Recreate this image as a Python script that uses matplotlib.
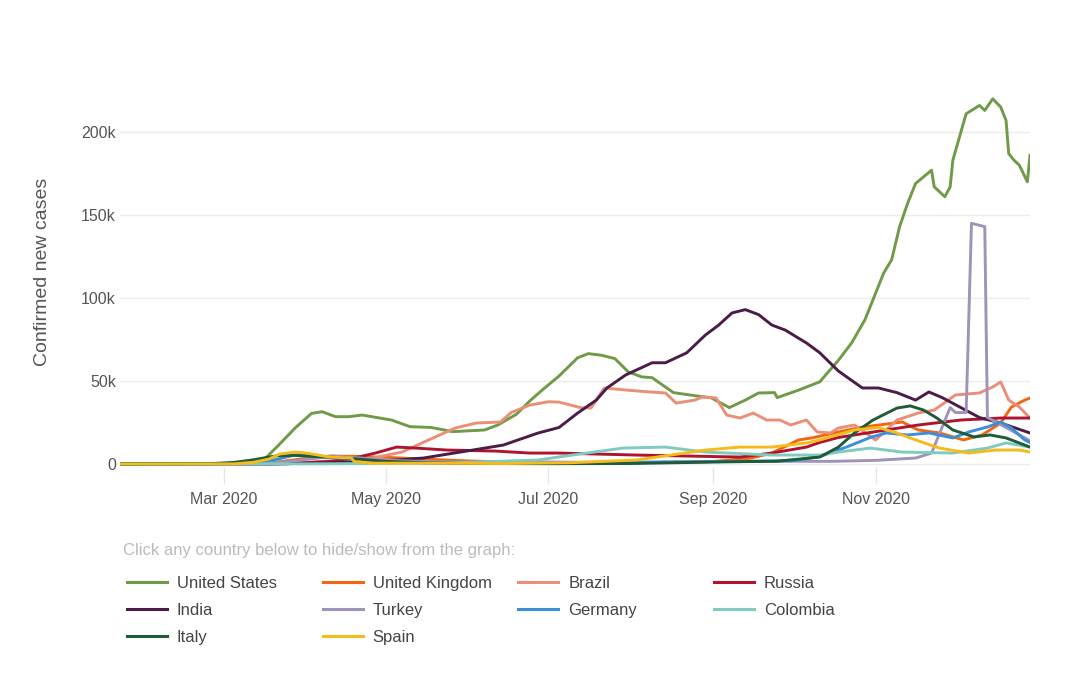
import matplotlib
matplotlib.use("Agg")
import matplotlib.pyplot as plt
import matplotlib.dates as mdates
from matplotlib.lines import Line2D
import pandas as pd

plt.rcParams["font.family"] = ["Liberation Sans", "DejaVu Sans"]

# daily confirmed new cases, in thousands
us_dates = ["2020-01-22", "2020-03-01", "2020-03-12", "2020-03-17", "2020-03-22", "2020-03-28",
            "2020-04-03", "2020-04-07", "2020-04-12", "2020-04-17", "2020-04-22", "2020-05-03",
            "2020-05-10", "2020-05-18", "2020-05-26", "2020-06-07", "2020-06-12", "2020-06-19",
            "2020-06-24", "2020-06-29", "2020-07-05", "2020-07-12", "2020-07-16", "2020-07-21",
            "2020-07-26", "2020-07-31", "2020-08-05", "2020-08-09", "2020-08-17", "2020-08-28",
            "2020-08-31", "2020-09-07", "2020-09-13", "2020-09-18", "2020-09-24", "2020-09-25",
            "2020-10-03", "2020-10-11", "2020-10-18", "2020-10-23", "2020-10-28", "2020-11-01",
            "2020-11-04", "2020-11-07", "2020-11-10", "2020-11-13", "2020-11-16", "2020-11-22",
            "2020-11-23", "2020-11-27", "2020-11-29", "2020-11-30", "2020-12-05", "2020-12-10",
            "2020-12-12", "2020-12-15", "2020-12-18", "2020-12-20", "2020-12-21", "2020-12-23",
            "2020-12-25", "2020-12-28", "2020-12-29"]
us_vals = [0, 0.1, 0.8, 4, 12, 22,
           30.5, 31.5, 28.5, 28.5, 29.5, 26.5,
           22.5, 22, 19.5, 20.5, 23.5, 30,
           38, 45, 53, 64, 66.5, 65.5,
           63.5, 55.5, 52.5, 52, 43, 40.5,
           40, 34, 38.5, 42.8, 43, 40,
           44.5, 49.5, 62.5, 73, 87, 103,
           115, 123, 143, 157, 169, 177,
           167, 161, 167, 183, 211, 216,
           213, 220, 215, 207, 187, 183,
           180, 170, 186]

uk_dates = ["2020-01-22", "2020-03-10", "2020-03-20", "2020-03-30", "2020-04-10", "2020-04-20",
            "2020-05-01", "2020-05-15", "2020-06-01", "2020-06-20", "2020-07-15", "2020-08-15",
            "2020-09-01", "2020-09-15", "2020-09-23", "2020-10-03", "2020-10-08", "2020-10-18",
            "2020-10-26", "2020-11-11", "2020-11-17", "2020-11-25", "2020-12-04", "2020-12-11",
            "2020-12-18", "2020-12-22", "2020-12-27", "2020-12-29"]
uk_vals = [0, 0.1, 1, 3, 4.8, 4.6,
           4, 3, 1.8, 1.1, 0.6, 1,
           1.5, 3.5, 6.6, 14.5, 15.7, 19.3,
           22, 25.3, 20.5, 18.7, 14.5, 17.5,
           24.7, 34.3, 38.5, 39.8]

br_dates = ["2020-01-22", "2020-03-15", "2020-04-01", "2020-04-26", "2020-05-07", "2020-05-17",
            "2020-05-27", "2020-06-04", "2020-06-13", "2020-06-17", "2020-06-24", "2020-07-01",
            "2020-07-05", "2020-07-13", "2020-07-17", "2020-07-22", "2020-07-30", "2020-08-08",
            "2020-08-14", "2020-08-18", "2020-08-25", "2020-08-28", "2020-09-02", "2020-09-06",
            "2020-09-11", "2020-09-16", "2020-09-21", "2020-09-26", "2020-09-30", "2020-10-06",
            "2020-10-10", "2020-10-15", "2020-10-18", "2020-10-24", "2020-11-01", "2020-11-09",
            "2020-11-17", "2020-11-23", "2020-12-01", "2020-12-10", "2020-12-15", "2020-12-18",
            "2020-12-21", "2020-12-25", "2020-12-29"]
br_vals = [0, 0, 1, 3.6, 7.2, 14.5,
           21.7, 24.7, 25.3, 31, 35.5, 37.5,
           37.3, 34, 33.7, 45.8, 44.6, 43.4,
           42.8, 36.7, 38.5, 40.4, 39.8, 29.5,
           27.7, 30.7, 26.5, 26.5, 23.5, 26.5,
           19.3, 18.7, 21.7, 23.5, 14.5, 26.5,
           30.7, 32.5, 41.6, 42.8, 46.4, 49.4,
           38.5, 34.3, 27.7]

ru_dates = ["2020-01-22", "2020-03-25", "2020-04-10", "2020-04-19", "2020-04-27", "2020-05-05",
            "2020-05-12", "2020-05-24", "2020-06-11", "2020-06-24", "2020-07-05", "2020-08-03",
            "2020-09-11", "2020-09-23", "2020-10-06", "2020-10-11", "2020-10-18", "2020-11-05",
            "2020-11-17", "2020-12-03", "2020-12-18", "2020-12-29"]
ru_vals = [0, 0.2, 1.5, 3.6, 6.6, 10.2,
           9.6, 8.4, 7.8, 6.6, 6.6, 5.4,
           4.2, 6.6, 10.2, 13, 16, 20.5,
           23.5, 26.5, 27.7, 27.7]

in_dates = ["2020-01-22", "2020-03-20", "2020-04-10", "2020-05-01", "2020-05-15", "2020-06-01",
            "2020-06-14", "2020-06-27", "2020-07-05", "2020-07-12", "2020-07-19", "2020-07-23",
            "2020-07-30", "2020-08-09", "2020-08-14", "2020-08-22", "2020-08-29", "2020-09-03",
            "2020-09-08", "2020-09-13", "2020-09-18", "2020-09-23", "2020-09-28", "2020-10-06",
            "2020-10-11", "2020-10-18", "2020-10-27", "2020-11-02", "2020-11-09", "2020-11-14",
            "2020-11-16", "2020-11-21", "2020-11-26", "2020-12-03", "2020-12-10", "2020-12-18",
            "2020-12-29"]
in_vals = [0, 0, 0.8, 2, 3.6, 8,
           11.4, 18.6, 22, 30.7, 38.5, 45.8,
           53.6, 61, 61, 67, 77.7, 83.7,
           91, 93, 90, 83.7, 80.7, 72.9,
           67, 56, 45.8, 45.8, 43, 39.8,
           38.5, 43.4, 40, 34, 28, 24.7,
           18.7]

tr_dates = ["2020-01-22", "2020-03-15", "2020-03-25", "2020-04-05", "2020-04-11", "2020-04-20",
            "2020-05-01", "2020-05-15", "2020-06-01", "2020-06-15", "2020-07-15", "2020-08-15",
            "2020-09-15", "2020-10-15", "2020-11-01", "2020-11-16", "2020-11-22", "2020-11-29",
            "2020-12-01", "2020-12-05", "2020-12-07", "2020-12-12", "2020-12-13", "2020-12-20",
            "2020-12-29"]
tr_vals = [0, 0, 1.5, 3.5, 4.8, 3.8,
           2.3, 1.5, 1, 1.5, 1, 1.2,
           1.7, 1.6, 2.2, 3.6, 6.6, 34,
           31, 31, 145, 143, 28, 22,
           14]

de_dates = ["2020-01-22", "2020-03-10", "2020-03-20", "2020-03-28", "2020-04-03", "2020-04-10",
            "2020-04-20", "2020-05-01", "2020-05-15", "2020-06-15", "2020-07-15", "2020-08-15",
            "2020-09-15", "2020-10-01", "2020-10-11", "2020-10-21", "2020-10-30", "2020-11-05",
            "2020-11-13", "2020-11-21", "2020-11-30", "2020-12-06", "2020-12-13", "2020-12-18",
            "2020-12-22", "2020-12-27", "2020-12-29"]
de_vals = [0, 0.2, 2.5, 5.5, 5.5, 4,
           2.5, 1.2, 0.6, 0.4, 0.5, 1.2,
           1.6, 2, 4.5, 10.2, 16, 18.7,
           17.5, 18.7, 15.7, 19.3, 22.3, 25.3,
           21.7, 14.5, 13]

co_dates = ["2020-01-22", "2020-04-01", "2020-05-01", "2020-06-01", "2020-06-27", "2020-07-10",
            "2020-07-29", "2020-08-14", "2020-08-29", "2020-09-23", "2020-10-11", "2020-10-18",
            "2020-10-30", "2020-11-11", "2020-11-30", "2020-12-13", "2020-12-20", "2020-12-29"]
co_vals = [0, 0.1, 0.3, 1, 2.4, 5.4,
           9.6, 10.2, 7.2, 5.4, 5.4, 7.2,
           9.6, 7.2, 6.6, 9.6, 12.7, 10.2]

it_dates = ["2020-01-22", "2020-02-25", "2020-03-05", "2020-03-12", "2020-03-21", "2020-03-28",
            "2020-04-04", "2020-04-12", "2020-04-20", "2020-05-01", "2020-05-15", "2020-06-01",
            "2020-07-01", "2020-08-01", "2020-09-01", "2020-09-25", "2020-10-11", "2020-10-18",
            "2020-10-24", "2020-10-31", "2020-11-09", "2020-11-14", "2020-11-19", "2020-11-24",
            "2020-11-30", "2020-12-08", "2020-12-14", "2020-12-20", "2020-12-29"]
it_vals = [0, 0.2, 1, 2.5, 5, 5.2,
           4.5, 4, 3, 1.6, 0.8, 0.3,
           0.2, 0.3, 1.2, 1.7, 4.2, 10.2,
           18.7, 26.5, 33.7, 35, 32.5, 27.7,
           20.5, 16.3, 17.5, 15.7, 10.2]

es_dates = ["2020-01-22", "2020-03-05", "2020-03-12", "2020-03-18", "2020-03-22", "2020-03-28",
            "2020-04-01", "2020-04-10", "2020-04-18", "2020-04-19", "2020-04-26", "2020-05-15",
            "2020-06-15", "2020-07-10", "2020-08-03", "2020-08-29", "2020-09-11", "2020-09-23",
            "2020-10-06", "2020-10-11", "2020-10-24", "2020-11-02", "2020-11-09", "2020-11-16",
            "2020-11-25", "2020-12-06", "2020-12-16", "2020-12-25", "2020-12-29"]
es_vals = [0, 0.1, 1, 3, 6, 7.2,
           6.6, 4.2, 3.6, 1.5, 0.5, 0.5,
           0.3, 0.8, 2.4, 8.4, 10.2, 10.2,
           12.7, 14.5, 20.5, 22, 18.7, 14.5,
           9.6, 6.6, 8.4, 8.4, 7.2]

series = [
    ("United States", us_dates, us_vals, "#6f9a47"),
    ("United Kingdom", uk_dates, uk_vals, "#f2670f"),
    ("Brazil", br_dates, br_vals, "#eb8e78"),
    ("Russia", ru_dates, ru_vals, "#ae1430"),
    ("India", in_dates, in_vals, "#4a1c47"),
    ("Turkey", tr_dates, tr_vals, "#a093ba"),
    ("Germany", de_dates, de_vals, "#3b8fd9"),
    ("Colombia", co_dates, co_vals, "#80cbbf"),
    ("Italy", it_dates, it_vals, "#1e5b36"),
    ("Spain", es_dates, es_vals, "#f5bb1b"),
]

y_ticks = [0, 50, 100, 150, 200]
y_labels = ["0", "50k", "100k", "150k", "200k"]
x_ticks = ["2020-03-01", "2020-05-01", "2020-07-01", "2020-09-01", "2020-11-01"]

W, H = 1080, 691
fig = plt.figure(figsize=(W / 100, H / 100), dpi=100)
fig.patch.set_facecolor("white")
ax = fig.add_axes([120 / W, (H - 467) / H, 910 / W, 373 / H])

for name, d, v, c in series:
    ax.plot(pd.to_datetime(d), v, color=c, lw=2.1, solid_joinstyle="round", zorder=3)

ax.set_xlim(pd.Timestamp("2020-01-22"), pd.Timestamp("2020-12-29"))
ax.set_ylim(-1.8, 222.9)
for s in ax.spines.values():
    s.set_visible(False)

ax.set_yticks(y_ticks)
ax.set_yticklabels(y_labels)
ax.yaxis.grid(True, color="#ececec", lw=1)
ax.set_axisbelow(True)
ax.tick_params(axis="y", length=0, pad=3, labelsize=11.5, labelcolor="#555555")

ax.set_xticks(pd.to_datetime(x_ticks))
ax.xaxis.set_major_formatter(mdates.DateFormatter("%b %Y"))
ax.tick_params(axis="x", length=11.5, width=1, color="#e6e6e6", pad=6.5,
               labelsize=11.5, labelcolor="#555555")

fig.text(43 / W, 1 - 272 / H, "Confirmed new cases", rotation=90, ha="center",
         va="center", fontsize=14, color="#555555")

# legend block under the chart, 4 columns
fig.text(123 / W, 1 - 549 / H, "Click any country below to hide/show from the graph:",
         ha="left", va="center_baseline", fontsize=12, color="#bbbbbb")
for i, (name, d, v, c) in enumerate(series):
    row, col = divmod(i, 4)
    x0 = 127 + col * 195.6
    y0 = 582 + row * 27
    fig.add_artist(Line2D([x0 / W, (x0 + 40) / W], [1 - y0 / H, 1 - y0 / H],
                          color=c, lw=2.2, transform=fig.transFigure))
    fig.text((x0 + 50) / W, 1 - y0 / H, name, ha="left", va="center_baseline",
             fontsize=12, color="#444444")

fig.savefig("out.png", dpi=100, facecolor="white")
